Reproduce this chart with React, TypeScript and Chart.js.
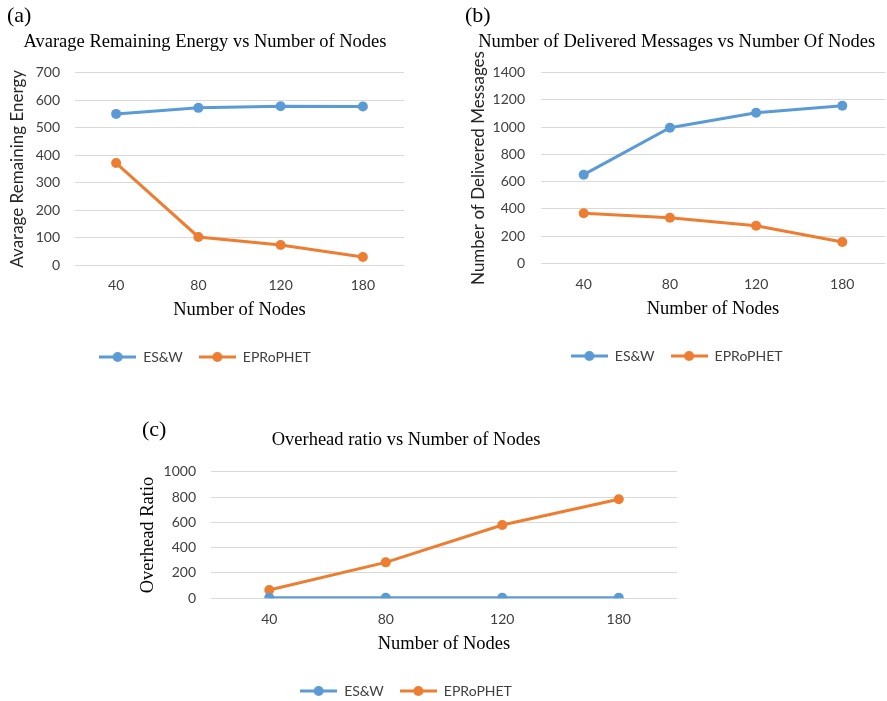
import React, { useEffect, useRef } from 'react';
import { Chart, registerables } from 'chart.js';

Chart.register(...registerables);

// ---------- data ----------
const nodeLabels = ['40', '80', '120', '180'];
const seriesNames = ['ES&W', 'EPRoPHET'];

const energyESW = [550, 572, 578, 577];
const energyEPRoPHET = [371, 102, 73, 29];

const deliveredESW = [651, 996, 1106, 1157];
const deliveredEPRoPHET = [367, 335, 276, 156];

const overheadESW = [4, 4, 4, 4];
const overheadEPRoPHET = [66, 284, 579, 782];

const chartTitles = [
  'Avarage Remaining Energy vs Number of Nodes',
  'Number of Delivered Messages vs Number Of Nodes',
  'Overhead ratio vs Number of Nodes',
];
const yTitles = ['Avarage Remaining Energy', 'Number of Delivered Messages', 'Overhead Ratio'];
const xTitle = 'Number of Nodes';
const panelTags = ['(a)', '(b)', '(c)'];

// ---------- style ----------
const BLUE = '#5B9BD5';
const ORANGE = '#ED7D31';
const SERIF = '"Liberation Serif", "Times New Roman", serif';
const SANS = 'Lato, "Noto Sans", sans-serif';
const TITLE_SIZE = 18.5;
const TICK_SIZE = 14;
const LEG_SIZE = 14;
const LEG_PAD = 16;
const YT_SANS_SIZE = 17;
const TEXT_GRAY = '#404040';

type Geo = {
  left: number; canvasRight: number; plotLeft: number; plotRight: number;
  titleY: number; plotTop: number; plotBottom: number; tickY: number;
  xTitleY: number; legendY: number; yTitleX: number; tickRight: number;
};

function legendIcon(color: string) {
  const c = document.createElement('canvas');
  c.width = 37;
  c.height = 12;
  const ctx = c.getContext('2d')!;
  ctx.strokeStyle = color;
  ctx.lineWidth = 3;
  ctx.beginPath();
  ctx.moveTo(0, 6);
  ctx.lineTo(37, 6);
  ctx.stroke();
  ctx.fillStyle = color;
  ctx.beginPath();
  ctx.arc(18.5, 6, 5, 0, Math.PI * 2);
  ctx.fill();
  return c;
}

function Panel(props: {
  g: Geo; title: string; yTitle: string; ySerif: boolean;
  esw: number[]; eprophet: number[]; yMax: number; yStep: number;
}) {
  const { g, title, yTitle, ySerif, esw, eprophet, yMax, yStep } = props;
  const ref = useRef<HTMLCanvasElement>(null);
  const top = Math.round(g.titleY - 18);
  const bottom = Math.round(g.legendY + LEG_SIZE / 2 + 10);
  const height = bottom - top;
  const width = g.canvasRight - g.left;

  useEffect(() => {
    const tfl = TITLE_SIZE * 1.2;
    const titlePT = g.titleY - top - tfl / 2;
    const titlePB = g.plotTop - g.titleY - tfl / 2;
    const legendTop = bottom - (LEG_SIZE + LEG_PAD + 10);
    const tickLH = TICK_SIZE * 1.2;
    const tickPad = g.tickY - g.plotBottom - tickLH / 2;
    const xPB = legendTop - g.xTitleY - tfl / 2;
    const xPT = legendTop - g.plotBottom - 2 * tickPad - tickLH - tfl - xPB;
    const yFontSize = ySerif ? TITLE_SIZE : YT_SANS_SIZE;
    const yPT = g.yTitleX - g.left - (yFontSize * 1.2) / 2;
    const yWidth = g.plotLeft - g.left;
    const yTickPad = g.plotLeft - g.tickRight;
    const rightPad = g.canvasRight - g.plotRight;
    const icons = [legendIcon(BLUE), legendIcon(ORANGE)];

    const mk = (label: string, data: number[], color: string) => ({
      label, data, borderColor: color, backgroundColor: color,
      borderWidth: 3, pointRadius: 5, pointHoverRadius: 5,
      pointBackgroundColor: color, pointBorderColor: color, pointBorderWidth: 0,
      tension: 0, fill: false,
    });

    const chart = new Chart(ref.current!, {
      type: 'line',
      data: {
        labels: nodeLabels,
        datasets: [mk(seriesNames[0], esw, BLUE), mk(seriesNames[1], eprophet, ORANGE)],
      },
      options: {
        responsive: false,
        animation: false,
        layout: { autoPadding: false, padding: { left: 0, right: rightPad, top: 0, bottom: 0 } },
        plugins: {
          title: {
            display: true, text: title, color: '#000',
            font: { family: SERIF, size: TITLE_SIZE, weight: 'normal' },
            padding: { top: titlePT, bottom: titlePB },
          },
          legend: {
            position: 'bottom',
            labels: {
              usePointStyle: true, pointStyleWidth: 37, padding: LEG_PAD,
              color: TEXT_GRAY, font: { family: SANS, size: LEG_SIZE },
              generateLabels: (ch: any) => ch.data.datasets.map((ds: any, i: number) => ({
                text: ds.label, pointStyle: icons[i], fillStyle: ds.borderColor,
                strokeStyle: ds.borderColor, lineWidth: 0, hidden: false,
                datasetIndex: i, fontColor: TEXT_GRAY,
              })),
            },
          },
          tooltip: { enabled: false },
        },
        scales: {
          x: {
            offset: true,
            grid: { display: false, drawTicks: false },
            border: { display: false },
            ticks: { padding: tickPad, color: TEXT_GRAY, font: { family: SANS, size: TICK_SIZE } },
            title: {
              display: true, text: xTitle, color: '#000',
              font: { family: SERIF, size: TITLE_SIZE, weight: 'normal' },
              padding: { top: xPT, bottom: xPB },
            },
            afterFit: (s: any) => { s.paddingLeft = 0; s.paddingRight = 0; },
          },
          y: {
            min: 0, max: yMax,
            ticks: {
              stepSize: yStep, padding: yTickPad, color: TEXT_GRAY,
              font: { family: SANS, size: TICK_SIZE },
              callback: (v: any) => String(v),
            },
            grid: { color: '#D9D9D9', lineWidth: 1, drawTicks: false },
            border: { display: false },
            title: {
              display: true, text: yTitle, color: ySerif ? '#000' : '#262626',
              font: { family: ySerif ? SERIF : SANS, size: yFontSize, weight: 'normal' },
              padding: { top: yPT, bottom: 0 },
            },
            afterFit: (s: any) => { s.width = yWidth; },
          },
        },
      } as any,
    });
    return () => chart.destroy();
  }, []);

  return (
    <div style={{ position: 'absolute', left: g.left, top, width, height }}>
      <canvas ref={ref} width={width} height={height} style={{ width, height, display: 'block' }} />
    </div>
  );
}

const geoA: Geo = { left: 6, canvasRight: 404, plotLeft: 75, plotRight: 404, titleY: 42, plotTop: 72.7, plotBottom: 265, tickY: 285, xTitleY: 310, legendY: 357, yTitleX: 18, tickRight: 60 };
const geoB: Geo = { left: 468, canvasRight: 887, plotLeft: 540.6, plotRight: 885.4, titleY: 41.7, plotTop: 72.7, plotBottom: 263.3, tickY: 284.3, xTitleY: 309, legendY: 355.7, yTitleX: 478.3, tickRight: 525 };
const geoC: Geo = { left: 135, canvasRight: 677, plotLeft: 211, plotRight: 677, titleY: 440, plotTop: 471.7, plotBottom: 598.3, tickY: 619, xTitleY: 644, legendY: 691, yTitleX: 148, tickRight: 196 };

const tagStyle = (left: number, top: number): React.CSSProperties => ({
  position: 'absolute', left, top, fontFamily: SERIF, fontSize: 22, lineHeight: '22px', color: '#000',
});

export default function App() {
  return (
    <div style={{ position: 'absolute', left: 0, top: 0, width: 887, height: 701, overflow: 'hidden', background: '#fff' }}>
      <Panel g={geoA} title={chartTitles[0]} yTitle={yTitles[0]} ySerif={false} esw={energyESW} eprophet={energyEPRoPHET} yMax={700} yStep={100} />
      <Panel g={geoB} title={chartTitles[1]} yTitle={yTitles[1]} ySerif={false} esw={deliveredESW} eprophet={deliveredEPRoPHET} yMax={1400} yStep={200} />
      <Panel g={geoC} title={chartTitles[2]} yTitle={yTitles[2]} ySerif={true} esw={overheadESW} eprophet={overheadEPRoPHET} yMax={1000} yStep={200} />
      <div style={tagStyle(7, 4)}>{panelTags[0]}</div>
      <div style={tagStyle(465, 4)}>{panelTags[1]}</div>
      <div style={tagStyle(142, 418)}>{panelTags[2]}</div>
    </div>
  );
}
